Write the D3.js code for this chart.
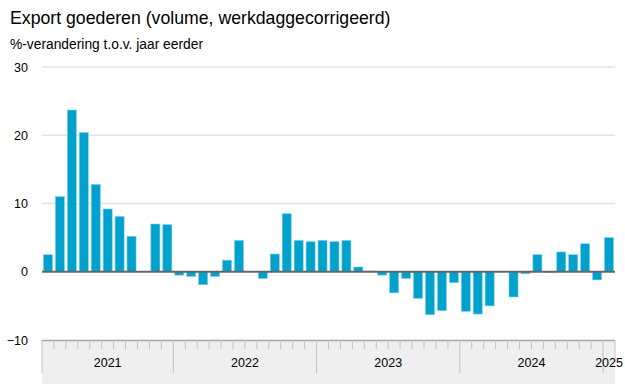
<!DOCTYPE html>
<html><head><meta charset="utf-8">
<script src="https://cdn.jsdelivr.net/npm/d3@7"></script>
<style>body{margin:0;background:#fff;} svg{display:block;font-family:"Liberation Sans",Arial,sans-serif;}</style>
</head><body>
<svg id="c" width="625" height="384"></svg>
<script>
const title = "Export goederen (volume, werkdaggecorrigeerd)";
const subtitle = "%-verandering t.o.v. jaar eerder";
const months = ["2021-02","2021-03","2021-04","2021-05","2021-06","2021-07","2021-08","2021-09","2021-10","2021-11","2021-12",
"2022-01","2022-02","2022-03","2022-04","2022-05","2022-06","2022-07","2022-08","2022-09","2022-10","2022-11","2022-12",
"2023-01","2023-02","2023-03","2023-04","2023-05","2023-06","2023-07","2023-08","2023-09","2023-10","2023-11","2023-12",
"2024-01","2024-02","2024-03","2024-04","2024-05","2024-06","2024-07","2024-08","2024-09","2024-10","2024-11","2024-12",
"2025-01"];
const values = [2.5,11.0,23.7,20.4,12.8,9.2,8.1,5.2,0,7.0,6.9,
-0.5,-0.7,-1.9,-0.7,1.7,4.6,0,-1.0,2.6,8.5,4.6,4.4,
4.6,4.4,4.6,0.7,0.1,-0.5,-3.1,-1.0,-3.9,-6.3,-5.7,-1.6,
-5.8,-6.2,-5.0,0,-3.7,-0.3,2.5,-0.1,2.9,2.5,4.1,-1.2,
5.0];
const yTicks = [-10,0,10,20,30];
const years = ["2021","2022","2023","2024","2025"];

const svg = d3.select("#c");
const L = 42, R = 615, T = 67, B = 340;
const x = d3.scaleBand().domain(months).range([L, R]).paddingInner(0.24).paddingOuter(0.12);
const y = d3.scaleLinear().domain([-10, 30]).range([B, T]);

svg.append("text").attr("x", 10).attr("y", 24).attr("font-size", 17.7).attr("fill", "#000").text(title);
svg.append("text").attr("x", 10).attr("y", 49).attr("font-size", 13.8).attr("fill", "#000").text(subtitle);

// grid
const yAxis = d3.axisLeft(y).tickValues(yTicks).tickSize(0).tickPadding(14);
const gy = svg.append("g").attr("transform", `translate(${L},0)`).call(yAxis);
gy.select(".domain").remove();
gy.selectAll("text").attr("font-size", 12.5).attr("fill", "#000").attr("font-family", "Liberation Sans, Arial, sans-serif");
svg.append("g").selectAll("line").data(yTicks.filter(d => d > 0)).join("line")
  .attr("x1", L).attr("x2", R).attr("y1", d => y(d)).attr("y2", d => y(d))
  .attr("stroke", "#e3e3e3").attr("stroke-width", 1.5);

// x band
const step = (R - L) / months.length;
svg.append("rect").attr("x", L).attr("y", B).attr("width", R - L).attr("height", 384 - B).attr("fill", "#efefef");
svg.append("line").attr("x1", L).attr("x2", R).attr("y1", B + 0.5).attr("y2", B + 0.5).attr("stroke", "#a8a8a8").attr("stroke-width", 1.5);
const bounds = months.map((m, i) => ({m, pos: L + i * step}));
bounds.push({m: "end", pos: R});
svg.append("g").selectAll("line").data(bounds).join("line")
  .attr("x1", d => d.pos).attr("x2", d => d.pos)
  .attr("y1", B)
  .attr("y2", d => (d.m.endsWith("-01") || d.pos === L) ? 373 : (d.m === "end" ? 362 : 349))
  .attr("stroke", "#c2c2c2").attr("stroke-width", 1);

// year labels
const yearInfo = years.map(yr => {
  const ms = months.filter(m => m.startsWith(yr));
  const a = x(ms[0]) - x.step() * x.paddingInner() / 2;
  const b = x(ms[ms.length - 1]) + x.bandwidth() + x.step() * x.paddingInner() / 2;
  return {yr, cx: ms.length === 1 ? x(ms[0]) + x.bandwidth() / 2 : (Math.max(a, L) + Math.min(b, R)) / 2};
});
svg.append("g").selectAll("text").data(yearInfo).join("text")
  .attr("x", d => d.cx).attr("y", 367).attr("text-anchor", "middle")
  .attr("font-size", 12.5).attr("fill", "#000").text(d => d.yr);

// bars
svg.append("g").selectAll("rect").data(values.map((v, i) => ({m: months[i], v}))).join("rect")
  .attr("x", d => x(d.m)).attr("width", x.bandwidth())
  .attr("y", d => y(Math.max(0, d.v))).attr("height", d => Math.abs(y(d.v) - y(0)))
  .attr("fill", "#00a1cd").attr("stroke", "#7fd3ea").attr("stroke-width", 0.6);

// zero line
svg.append("line").attr("x1", L).attr("x2", R).attr("y1", y(0)).attr("y2", y(0)).attr("stroke", "#666").attr("stroke-width", 2);
</script>
</body></html>
